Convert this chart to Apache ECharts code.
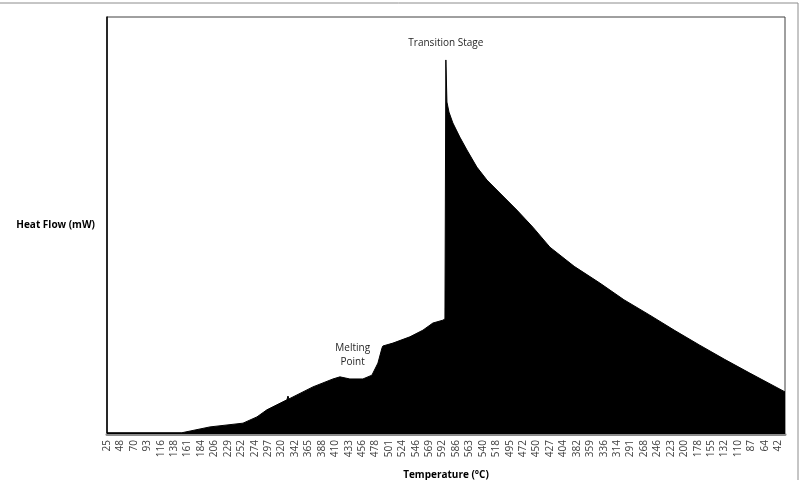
<!DOCTYPE html>
<html>
<head>
<meta charset="utf-8">
<script src="https://cdn.jsdelivr.net/npm/echarts@6/dist/echarts.min.js"></script>
<style>
  html, body { margin: 0; padding: 0; background: #fff; }
  #chart { width: 804px; height: 480px; }
</style>
</head>
<body>
<div id="chart"></div>
<script>
// tick labels along the x axis: heating run then cooling run (°C)
var tickLabels = ['25', '48', '70', '93', '116', '138', '161', '184', '206', '229', '252', '274', '297',
    '320', '342', '365', '388', '410', '433', '456', '478', '501', '524', '546', '569', '592',
    '586', '563', '540', '518', '495', '472', '450', '427', '404', '382', '359', '336', '314',
    '291', '268', '246', '223', '200', '178', '155', '132', '110', '87', '64', '42'];

// sample position (in tick steps) and heat flow
var samplePos = [0, 5.58, 7.67, 10.13, 11.17, 11.91, 13.40, 13.48, 13.55, 15.34, 16.83, 17.35,
    18.09, 19.06, 19.73, 20.18, 20.48, 20.55, 21.30, 22.56, 23.53, 24.27, 25.02, 25.17,
    25.24, 25.32, 25.47, 25.76, 26.28, 26.81, 27.55, 28.30, 29.26, 30.53, 31.72, 32.99,
    34.8, 36.71, 38.5, 40.43, 42.3, 44.15, 46.0, 47.88, 50.5];
var heatFlow = [0.3, 0.3, 1.7, 2.6, 4.1, 5.8, 8.2, 9.1, 8.4, 11.3, 13.2, 13.7,
    13.2, 13.2, 14.1, 17.0, 20.6, 21.1, 21.8, 23.3, 24.9, 26.6, 27.3, 27.6,
    89.7, 79.6, 77.2, 74.6, 71.2, 68.1, 64.0, 60.9, 57.8, 53.7, 49.6, 44.8,
    40.2, 36.2, 32.2, 28.5, 24.8, 21.3, 17.9, 14.6, 10.1];

var points = samplePos.map(function (p, i) { return [p, heatFlow[i]]; });

var chart = echarts.init(document.getElementById('chart'));

var option = {
    animation: false,
    backgroundColor: '#fff',
    grid: {
        left: 107, top: 17, width: 678, height: 417,
        outerBoundsMode: 'none',
        containLabel: false,
        show: true, borderColor: '#404040', borderWidth: 1
    },
    graphic: [{
        type: 'rect',
        shape: { x: -2, y: 3, width: 800, height: 480 },
        style: { fill: 'none', stroke: '#8c8c8c', lineWidth: 1 },
        silent: true
    }],
    xAxis: {
        type: 'value',
        min: 0, max: 50.5, interval: 1,
        name: 'Temperature (°C)',
        nameLocation: 'middle',
        nameGap: 36,
        nameTextStyle: { fontFamily: 'Open Sans', fontWeight: 'bold', fontSize: 10, color: '#000' },
        axisLine: { lineStyle: { color: '#8c8c8c', width: 3 } },
        axisTick: { show: false },
        splitLine: { show: false },
        axisLabel: {
            rotate: 90,
            fontFamily: 'Open Sans', fontSize: 10, color: '#404040', margin: 6,
            formatter: function (v) { return tickLabels[Math.round(v)] || ''; }
        }
    },
    yAxis: {
        type: 'value',
        min: 0, max: 100,
        name: 'Heat Flow (mW)',
        nameLocation: 'middle',
        nameRotate: 0,
        nameGap: 12,
        nameTextStyle: { fontFamily: 'Open Sans', fontWeight: 'bold', fontSize: 10, color: '#000' },
        axisLine: { show: true, lineStyle: { color: '#000', width: 1.5 } },
        axisTick: { show: false },
        axisLabel: { show: false },
        splitLine: { show: false }
    },
    series: [{
        type: 'line',
        data: points,
        showSymbol: false,
        lineStyle: { color: '#000', width: 1 },
        areaStyle: { color: '#000', opacity: 1 },
        markPoint: {
            symbol: 'circle',
            symbolSize: 0,
            label: {
                show: true, position: 'top', distance: 10,
                fontFamily: 'Open Sans', fontSize: 10, color: '#262626', lineHeight: 14,
                formatter: function (p) { return p.name; }
            },
            data: [
                { name: 'Transition Stage', coord: [25.24, 89.7] },
                { name: 'Melting\nPoint', coord: [18.3, 13.2], label: { distance: 10 } }
            ]
        }
    }]
};

chart.setOption(option);
</script>
</body>
</html>
